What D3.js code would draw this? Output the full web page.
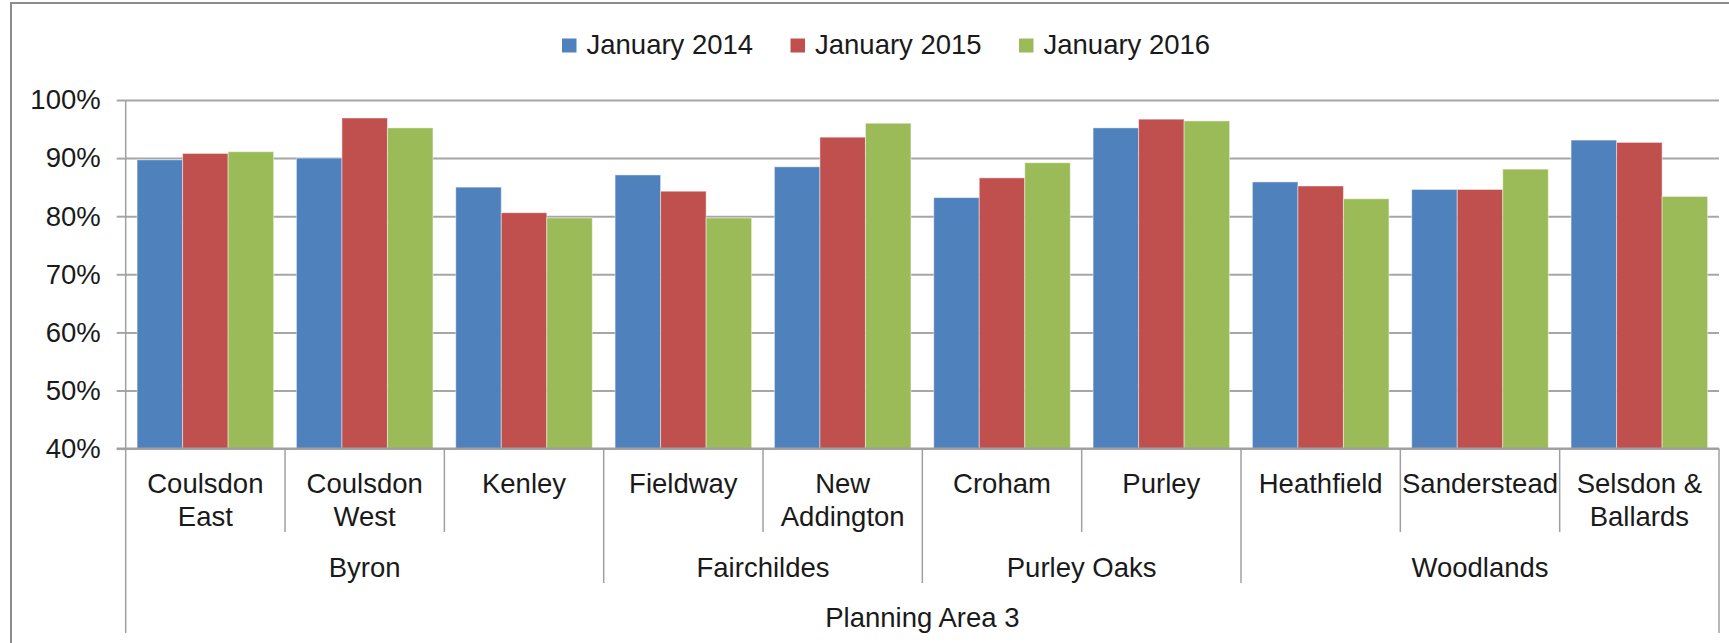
<!DOCTYPE html>
<html lang="en">
<head>
    <meta charset="UTF-8">
    <title>Planning Area 3</title>
    <style>
        body { margin: 0; background: #fff; }
        svg { display: block; font-family: "Liberation Sans", Arial, sans-serif; }
    </style>
</head>
<body>
    <div class="container"></div>
    <script src="https://cdn.jsdelivr.net/npm/d3@7/dist/d3.min.js"></script>
    <script>
        // Data
        const wards = ["Coulsdon East", "Coulsdon West", "Kenley", "Fieldway", "New Addington",
                       "Croham", "Purley", "Heathfield", "Sanderstead", "Selsdon & Ballards"]
        const wardLines = [["Coulsdon", "East"], ["Coulsdon", "West"], ["Kenley"], ["Fieldway"], ["New", "Addington"],
                           ["Croham"], ["Purley"], ["Heathfield"], ["Sanderstead"], ["Selsdon &", "Ballards"]]
        const groups = ["Byron", "Fairchildes", "Purley Oaks", "Woodlands"]
        const groupSizes = [3, 2, 2, 3]
        const areaLabel = "Planning Area 3"
        const seriesNames = ["January 2014", "January 2015", "January 2016"]
        const jan2014 = [89.7, 90.0, 85.0, 87.1, 88.5, 83.2, 95.2, 85.9, 84.6, 93.1]
        const jan2015 = [90.8, 96.9, 80.6, 84.3, 93.6, 86.6, 96.7, 85.2, 84.6, 92.7]
        const jan2016 = [91.1, 95.2, 79.7, 79.7, 96.0, 89.2, 96.4, 83.0, 88.1, 83.4]
        const yTicks = [40, 50, 60, 70, 80, 90, 100]
        const colors = ["#4F81BD", "#C0504D", "#9BBB59"]

        const width = 1729
        const height = 643
        const plotLeft = 125.7
        const plotRight = 1719
        const plotTop = 100
        const plotBottom = 448.6
        const fontSize = 27.5

        const svg = d3.select(".container").append("svg")
            .attr("width", width)
            .attr("height", height)

        // outer chart frame (runs off the right and bottom edges)
        svg.append("rect")
            .attr("x", 11).attr("y", 3)
            .attr("width", width + 20).attr("height", height + 20)
            .attr("fill", "none").attr("stroke", "#8c8c8c").attr("stroke-width", 2)

        const yScale = d3.scaleLinear().domain([40, 100]).range([plotBottom, plotTop])
        const x0 = d3.scaleBand().domain(wards).range([plotLeft, plotRight])
                     .paddingInner(0.143).paddingOuter(0.0715)
        const x1 = d3.scaleBand().domain(seriesNames).range([0, x0.bandwidth()])
        const step = x0.step()
        const edge = i => plotLeft + i * step

        // gridlines
        const grid = svg.append("g").attr("transform", `translate(${plotLeft},0)`)
            .call(d3.axisRight(yScale).tickValues(yTicks).tickSize(plotRight - plotLeft).tickFormat(() => ""))
        grid.select(".domain").remove()
        grid.selectAll(".tick line").attr("stroke", "#a6a6a6").attr("stroke-width", 2)

        // left axis with tick labels
        const leftAxis = svg.append("g").attr("transform", `translate(${plotLeft},0)`)
            .call(d3.axisLeft(yScale).tickValues(yTicks).tickSize(9).tickPadding(16)
                    .tickFormat(d => d + "%"))
        leftAxis.select(".domain").remove()
        leftAxis.selectAll(".tick line").attr("stroke", "#a6a6a6").attr("stroke-width", 2)
        leftAxis.selectAll(".tick text")
            .attr("font-size", fontSize).attr("fill", "#1a1a1a")
            .attr("font-family", "Liberation Sans, Arial, sans-serif")

        // bars
        const seriesValues = [jan2014, jan2015, jan2016]
        const barData = []
        wards.forEach((w, i) => seriesNames.forEach((s, j) => barData.push({ ward: w, series: s, value: seriesValues[j][i], k: j })))
        svg.append("g").selectAll("rect").data(barData).join("rect")
            .attr("x", d => x0(d.ward) + x1(d.series))
            .attr("y", d => yScale(d.value))
            .attr("width", x1.bandwidth())
            .attr("height", d => yScale(40) - yScale(d.value))
            .attr("fill", d => colors[d.k])
            .attr("stroke", "rgba(255,255,255,0.45)")
            .attr("stroke-width", 1)

        // category axis lines
        const axisColor = "#a0a0a0"
        const lines = svg.append("g").attr("stroke", axisColor).attr("stroke-width", 1.5)
        lines.append("line").attr("x1", plotLeft - 9).attr("x2", plotRight)
            .attr("y1", plotBottom).attr("y2", plotBottom).attr("stroke-width", 2)
        lines.append("line").attr("x1", plotLeft).attr("x2", plotLeft).attr("y1", plotTop).attr("y2", 633)
        lines.append("line").attr("x1", plotRight).attr("x2", plotRight).attr("y1", plotBottom).attr("y2", 633)

        const groupEnds = d3.cumsum(groupSizes)
        for (let i = 1; i < wards.length; i++) {
            const isGroupEdge = groupEnds.includes(i)
            lines.append("line")
                .attr("x1", edge(i)).attr("x2", edge(i))
                .attr("y1", plotBottom).attr("y2", isGroupEdge ? 583 : 532)
        }

        // ward labels
        const labels = svg.append("g").attr("font-size", fontSize).attr("fill", "#1a1a1a").attr("text-anchor", "middle")
        wards.forEach((w, i) => {
            wardLines[i].forEach((t, k) => {
                labels.append("text")
                    .attr("x", x0(w) + x0.bandwidth() / 2)
                    .attr("y", 493 + k * 32.5)
                    .text(t)
            })
        })

        // group labels
        groups.forEach((g, i) => {
            const a = i === 0 ? 0 : groupEnds[i - 1]
            labels.append("text")
                .attr("x", (edge(a) + edge(groupEnds[i])) / 2)
                .attr("y", 577)
                .text(g)
        })
        labels.append("text").attr("x", (plotLeft + plotRight) / 2).attr("y", 627).text(areaLabel)

        // legend
        const legend = svg.append("g").attr("transform", "translate(562,0)")
        const itemStep = 228.5
        seriesNames.forEach((s, j) => {
            const g = legend.append("g").attr("transform", `translate(${j * itemStep},0)`)
            g.append("rect").attr("x", 0).attr("y", 38.5).attr("width", 14.5).attr("height", 14)
                .attr("fill", colors[j])
            g.append("text").attr("x", 24.5).attr("y", 53.5)
                .attr("font-size", fontSize).attr("fill", "#1a1a1a").text(s)
        })
    </script>
</body>
</html>
